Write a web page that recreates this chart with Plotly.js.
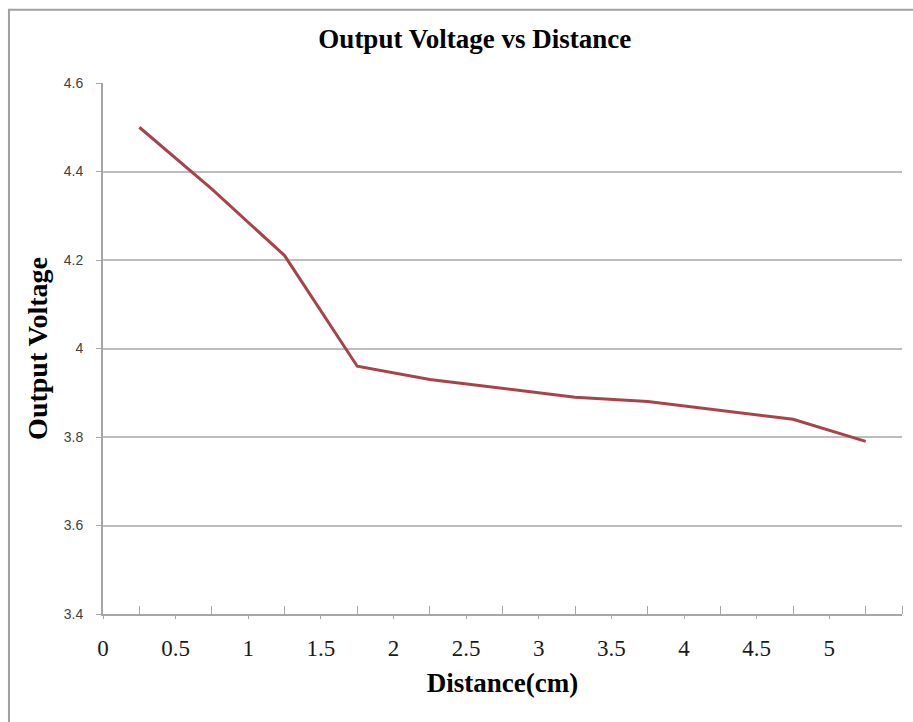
<!DOCTYPE html>
<html>
<head>
<meta charset="utf-8">
<script src="https://cdn.plot.ly/plotly-3.0.1.min.js"></script>
<style>html,body{margin:0;padding:0;background:#fff;}#chart{width:913px;height:722px;}</style>
</head>
<body>
<div id="chart"></div>
<script>
// Data
var distance = [0.25, 0.75, 1.25, 1.75, 2.25, 2.75, 3.25, 3.75, 4.25, 4.75, 5.25];
var voltage  = [4.50, 4.36, 4.21, 3.96, 3.93, 3.91, 3.89, 3.88, 3.86, 3.84, 3.79];
var xTickValues = [0, 0.5, 1, 1.5, 2, 2.5, 3, 3.5, 4, 4.5, 5];
var xTickLabels = ['0', '0.5', '1', '1.5', '2', '2.5', '3', '3.5', '4', '4.5', '5'];
var yTickValues = [3.4, 3.6, 3.8, 4, 4.2, 4.4, 4.6];
var yTickLabels = ['3.4', '3.6', '3.8', '4', '4.2', '4.4', '4.6'];
var xEnd = [5.5];

var trace = {
  x: distance,
  y: voltage,
  type: 'scatter',
  mode: 'lines',
  line: {color: '#A9434A', width: 3},
  hoverinfo: 'x+y'
};

var layout = {
  width: 913,
  height: 722,
  margin: {l: 103, r: 11, t: 83, b: 108},
  paper_bgcolor: '#ffffff',
  plot_bgcolor: '#ffffff',
  showlegend: false,
  title: {
    text: '<b>Output Voltage vs Distance</b>',
    font: {family: 'Liberation Serif, Times New Roman, serif', size: 27, color: '#000000'},
    xref: 'container', x: 0.52, xanchor: 'center',
    yref: 'container', y: 0.947, yanchor: 'middle'
  },
  xaxis: {
    range: [0, 5.5],
    tickmode: 'array',
    tickvals: xTickValues,
    ticktext: xTickLabels,
    ticks: 'outside',
    ticklen: 3,
    tickwidth: 1,
    tickcolor: '#A6A6A6',
    ticklabelstandoff: 9,
    tickfont: {family: 'Liberation Serif, Times New Roman, serif', size: 23, color: '#1a1a1a'},
    showgrid: false,
    zeroline: false,
    showline: true,
    linecolor: '#A6A6A6',
    linewidth: 2,
    minor: {
      tickmode: 'array',
      tickvals: distance.concat(xEnd),
      ticks: 'inside',
      ticklen: 8,
      tickwidth: 1,
      tickcolor: '#A6A6A6',
      showgrid: false
    },
    title: {
      text: '<b>Distance(cm)</b>',
      font: {family: 'Liberation Serif, Times New Roman, serif', size: 27, color: '#000000'},
      standoff: 14
    },
    fixedrange: true
  },
  yaxis: {
    range: [3.4, 4.6],
    tickmode: 'array',
    tickvals: yTickValues,
    ticktext: yTickLabels,
    ticks: 'outside',
    ticklen: 5,
    tickwidth: 1,
    tickcolor: '#A6A6A6',
    ticklabelstandoff: 10,
    tickfont: {family: 'Liberation Sans, Arial, sans-serif', size: 14, color: '#404040'},
    showgrid: true,
    gridcolor: '#BEBEBE',
    gridwidth: 2,
    zeroline: false,
    showline: true,
    linecolor: '#A6A6A6',
    linewidth: 2,
    title: {
      text: '<b>Output Voltage</b>',
      font: {family: 'Liberation Serif, Times New Roman, serif', size: 28, color: '#000000'},
      standoff: 8
    },
    fixedrange: true
  },
  shapes: [{
    type: 'rect',
    xref: 'paper', yref: 'paper',
    x0: -0.1177, x1: 1.03,
    y0: -0.23, y1: 1.138,
    line: {color: '#A0A0A0', width: 2},
    fillcolor: 'rgba(0,0,0,0)',
    layer: 'below'
  }]
};

Plotly.newPlot('chart', [trace], layout, {displayModeBar: false, staticPlot: true});
</script>
</body>
</html>
